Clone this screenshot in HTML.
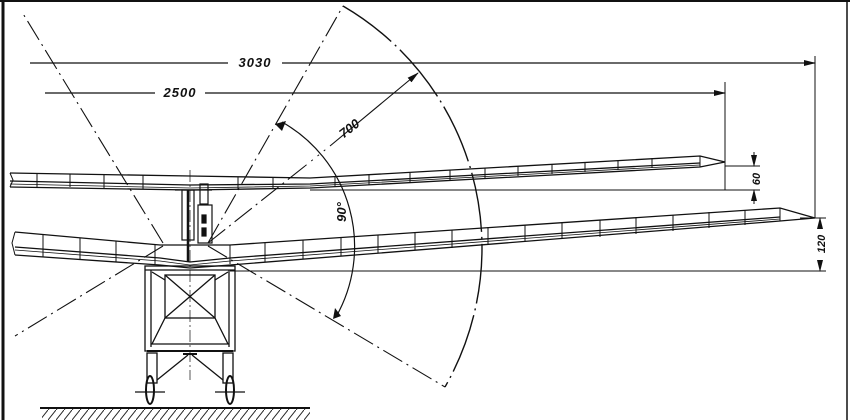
<!DOCTYPE html>
<html><head><meta charset="utf-8"><style>
html,body{margin:0;padding:0;background:#fff;}
svg{display:block;}
text{font-family:"Liberation Sans",sans-serif;font-style:italic;font-weight:bold;fill:#111;}
</style></head><body>
<svg width="850" height="420" viewBox="0 0 850 420" xmlns="http://www.w3.org/2000/svg">
<defs>
<marker id="a" markerWidth="12" markerHeight="8" refX="11" refY="4" orient="auto" markerUnits="userSpaceOnUse"><path d="M0,1 L12,4 L0,7 Z" fill="#111"/></marker>
<pattern id="h" width="8" height="10" patternUnits="userSpaceOnUse"><path d="M8,0 L0,10" stroke="#222" stroke-width="1"/></pattern>
</defs>
<rect x="0" y="0" width="850" height="420" fill="#fff"/>
<g stroke="#111" fill="none">
<line x1="3" y1="0" x2="3" y2="420" stroke-width="3"/>
<line x1="0" y1="1" x2="850" y2="1" stroke-width="2"/>
<line x1="847" y1="0" x2="847" y2="420" stroke-width="1.5"/>

<line x1="30" y1="63" x2="228" y2="63" stroke-width="1.2"/>
<line x1="282" y1="63" x2="815" y2="63" stroke-width="1.2" marker-end="url(#a)"/>
<line x1="815" y1="56" x2="815" y2="218" stroke-width="1"/>
<line x1="45" y1="93" x2="155" y2="93" stroke-width="1.2"/>
<line x1="205" y1="93" x2="725" y2="93" stroke-width="1.2" marker-end="url(#a)"/>
<line x1="725" y1="82" x2="725" y2="190" stroke-width="1"/>

<line x1="725" y1="166" x2="760" y2="166" stroke-width="1"/>
<line x1="310" y1="190" x2="760" y2="190" stroke-width="1"/>
<line x1="754" y1="152" x2="754" y2="166" stroke-width="1" marker-end="url(#a)"/>
<line x1="754" y1="204" x2="754" y2="190" stroke-width="1" marker-end="url(#a)"/>
<line x1="800" y1="218" x2="826" y2="218" stroke-width="1"/>
<line x1="230" y1="271" x2="826" y2="271" stroke-width="1"/>
<line x1="820" y1="228" x2="820" y2="218" stroke-width="1" marker-end="url(#a)"/>
<line x1="820" y1="260" x2="820" y2="271" stroke-width="1" marker-end="url(#a)"/>

<g stroke-width="1.3">
<path d="M10,173 L190,176 L310,178 L700,156 L725,162 L700,167 L310,188 L190,190 L10,187"/>
<path d="M10,181 L190,185 L310,184 L700,163"/>
<path d="M10,184 L190,188 L310,186 L700,165" stroke-width="0.8"/>
<path d="M10,173 L13,180 L10,187" stroke-width="1"/>
</g>
<g stroke-width="1">
<line x1="37" y1="174" x2="37" y2="187"/><line x1="70" y1="174" x2="70" y2="187"/><line x1="104" y1="175" x2="104" y2="188"/><line x1="143" y1="175" x2="143" y2="189"/><line x1="238" y1="177" x2="238" y2="190"/><line x1="273" y1="178" x2="273" y2="189"/><line x1="335" y1="177" x2="335" y2="187"/><line x1="369" y1="175" x2="369" y2="185"/><line x1="410" y1="173" x2="410" y2="183"/><line x1="450" y1="170" x2="450" y2="180"/><line x1="485" y1="168" x2="485" y2="178"/><line x1="518" y1="166" x2="518" y2="176"/><line x1="552" y1="164" x2="552" y2="174"/><line x1="585" y1="162" x2="585" y2="172"/><line x1="618" y1="160" x2="618" y2="170"/><line x1="652" y1="158" x2="652" y2="168"/><line x1="700" y1="156" x2="700" y2="167"/>
</g>

<g stroke-width="1.3">
<path d="M15,232 L160,245 L230,245 L780,208 L815,218 L780,221 L230,265 L190,268 L160,265 L15,255"/>
<path d="M15,247 L160,258 L190,262 L230,258 L780,217"/>
<path d="M15,250 L160,261 L190,265 L230,261 L780,219" stroke-width="0.8"/>
<path d="M15,232 L12,243 L15,255" stroke-width="1"/>
</g>
<g stroke-width="1">
<line x1="43" y1="234" x2="43" y2="257"/><line x1="80" y1="238" x2="80" y2="259"/><line x1="116" y1="241" x2="116" y2="262"/><line x1="155" y1="244" x2="155" y2="264"/><line x1="230" y1="245" x2="230" y2="264"/><line x1="265" y1="243" x2="265" y2="262"/><line x1="303" y1="240" x2="303" y2="259"/><line x1="341" y1="237" x2="341" y2="256"/><line x1="378" y1="235" x2="378" y2="253"/><line x1="415" y1="232" x2="415" y2="250"/><line x1="452" y1="230" x2="452" y2="248"/><line x1="488" y1="227" x2="488" y2="245"/><line x1="525" y1="225" x2="525" y2="242"/><line x1="562" y1="222" x2="562" y2="239"/><line x1="600" y1="220" x2="600" y2="237"/><line x1="636" y1="217" x2="636" y2="234"/><line x1="673" y1="215" x2="673" y2="231"/><line x1="709" y1="212" x2="709" y2="228"/><line x1="745" y1="210" x2="745" y2="225"/><line x1="780" y1="208" x2="780" y2="221"/>
</g>

<g stroke-width="1.2">
<rect x="182" y="190" width="12" height="50"/>
<rect x="198" y="205" width="14" height="38"/>
<rect x="200" y="184" width="8" height="20"/>
<line x1="188" y1="190" x2="188" y2="262" stroke-width="2.5"/>
<line x1="175" y1="190" x2="212" y2="190"/>
<rect x="202" y="215" width="4" height="8" fill="#111"/>
<rect x="202" y="228" width="4" height="8" fill="#111"/>
</g>

<g stroke-width="1.3">
<rect x="145" y="266" width="90" height="85"/>
<line x1="151" y1="270" x2="151" y2="347"/><line x1="229" y1="270" x2="229" y2="347"/>
<line x1="145" y1="270" x2="235" y2="270"/>
<rect x="165" y="275" width="50" height="43"/>
<line x1="165" y1="275" x2="215" y2="318"/><line x1="215" y1="275" x2="165" y2="318"/>
<line x1="152" y1="272" x2="165" y2="280"/><line x1="228" y1="272" x2="215" y2="280"/>
<path d="M165,318 L152,344 L228,344 L215,318"/>
<line x1="147" y1="351" x2="233" y2="351" stroke-width="2"/>
<rect x="147" y="353" width="10" height="30"/>
<rect x="223" y="353" width="10" height="30"/>
<line x1="157" y1="380" x2="188" y2="355"/><line x1="223" y1="380" x2="192" y2="355"/>
<line x1="183" y1="354" x2="197" y2="354" stroke-width="2"/>
<ellipse cx="150" cy="390" rx="4" ry="14" stroke-width="2"/>
<ellipse cx="230" cy="390" rx="4" ry="14" stroke-width="2"/>
<line x1="135" y1="392" x2="165" y2="392"/><line x1="215" y1="392" x2="245" y2="392"/>
</g>
<line x1="190" y1="170" x2="190" y2="380" stroke-width="0.7" stroke-dasharray="12,3,2,3"/>

<line x1="40" y1="408" x2="310" y2="408" stroke-width="2"/>
<rect x="42" y="409" width="268" height="11" fill="url(#h)" stroke="none"/>

<g stroke-width="1.1" stroke-dasharray="22,5,2,5">
<line x1="163" y1="243" x2="22" y2="12"/>
<line x1="163" y1="246" x2="15" y2="336"/>
<line x1="208" y1="243" x2="343" y2="6"/>
<line x1="208" y1="246" x2="445" y2="387"/>
<line x1="208" y1="243" x2="305" y2="166"/>
</g>
<line x1="330" y1="146" x2="418" y2="73" stroke-width="1.1" marker-end="url(#a)"/>
<line x1="305" y1="166" x2="330" y2="146" stroke-width="1" stroke-dasharray="2,6"/>
<path d="M343,6 A280,280 0 0 1 445,387" stroke-width="1.4" stroke-dasharray="60,5,2,5"/>
<path d="M282,122 A143,143 0 0 1 336,317" stroke-width="1.2"/>
<path d="M275,124 l11,-3 l-4,10 z" fill="#111" stroke="none"/>
<path d="M333,319 l2,-11 l6,8 z" fill="#111" stroke="none"/>
</g>
<text x="255" y="67" font-size="13" text-anchor="middle" letter-spacing="1">3030</text>
<text x="180" y="97" font-size="13" text-anchor="middle" letter-spacing="1">2500</text>
<text x="0" y="0" font-size="13" text-anchor="middle" transform="translate(352,132) rotate(-38)">700</text>
<text x="0" y="0" font-size="13" text-anchor="middle" transform="translate(346,212) rotate(-90)">90°</text>
<text x="0" y="0" font-size="11" text-anchor="middle" transform="translate(760,179) rotate(-90)">60</text>
<text x="0" y="0" font-size="11" text-anchor="middle" transform="translate(825,244) rotate(-90)">120</text>
</svg>
</body></html>
